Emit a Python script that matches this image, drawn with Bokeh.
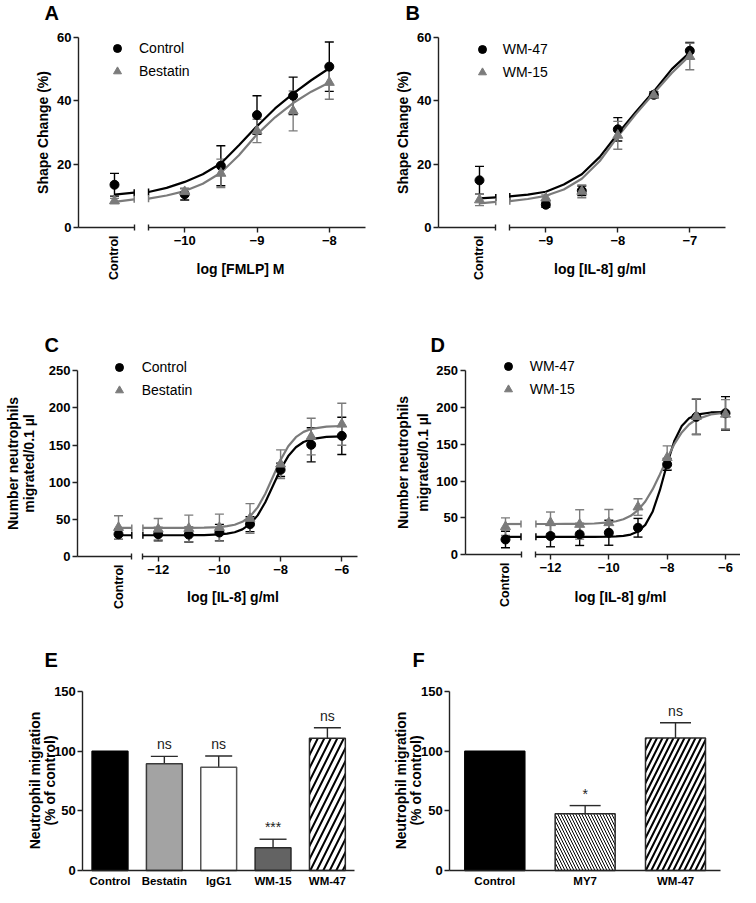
import math
from bokeh.plotting import figure
from bokeh.models import (LinearAxis, FixedTicker, Range1d, Label, Legend, LegendItem,
                          Whisker, TeeHead, ColumnDataSource)
from bokeh.layouts import column, row
from bokeh.embed import file_html
from bokeh.resources import INLINE
from bokeh.core.properties import value

FONT = "Liberation Sans"
INK = "#000000"
GREY = "#7b7b7b"
AXC = "#222222"

# ---------------- Panel A : shape change, FMLP ----------------
A_series = ["Control", "Bestatin"]
A_logx = [-10, -9.5, -9, -8.5, -8]
A_mean_1 = [10.5, 19.5, 35.5, 41.6, 50.8]
A_sem_1 = [1.8, 6.3, 6.1, 5.9, 7.8]
A_mean_2 = [11.3, 17.1, 30.5, 36.8, 45.8]
A_sem_2 = [1.0, 4.5, 3.7, 6.3, 5.3]
A_ctrl_mean = [13.5, 8.4]
A_ctrl_sem = [3.6, 0.8]
A_fit_x = [-10.5, -10.25, -10, -9.75, -9.5, -9.25, -9, -8.75, -8.5, -8.25, -8]
A_fit_1 = [11.2, 12.5, 14.4, 16.8, 20.2, 26.0, 32.0, 37.6, 42.3, 46.5, 50.3]
A_fit_2 = [9.1, 10.1, 11.5, 13.8, 17.3, 22.8, 29.4, 34.8, 39.3, 42.9, 45.8]
A_fit_ctrl_1 = [10.4, 11.0]
A_fit_ctrl_2 = [8.1, 8.9]
A_xticks = [-10, -9, -8]
A_yticks = [0, 20, 40, 60]

# ---------------- Panel B : shape change, IL-8 ----------------
B_series = ["WM-47", "WM-15"]
B_logx = [-9, -8.5, -8, -7.5, -7]
B_mean_1 = [7.2, 11.6, 31.0, 41.9, 55.8]
B_sem_1 = [0.8, 1.5, 3.7, 1.0, 2.6]
B_mean_2 = [9.3, 11.4, 29.1, 41.8, 54.0]
B_sem_2 = [1.0, 2.0, 4.4, 1.0, 4.2]
B_ctrl_mean = [14.9, 8.7]
B_ctrl_sem = [4.4, 1.8]
B_fit_x = [-9.5, -9.25, -9, -8.75, -8.5, -8.25, -8, -7.75, -7.5, -7.25, -7]
B_fit_1 = [9.8, 10.4, 11.3, 13.6, 16.8, 22.3, 29.6, 36.5, 43.0, 50.0, 55.3]
B_fit_2 = [8.3, 9.0, 10.0, 12.0, 15.4, 21.0, 28.7, 35.8, 42.4, 48.8, 54.3]
B_fit_ctrl_1 = [9.2, 9.5]
B_fit_ctrl_2 = [7.6, 8.1]
B_xticks = [-9, -8, -7]
B_yticks = [0, 20, 40, 60]

# ---------------- Panel C : migration, IL-8 ----------------
C_series = ["Control", "Bestatin"]
C_logx = [-12, -11, -10, -9, -8, -7, -6]
C_mean_1 = [30.0, 29.5, 32.3, 43.5, 116.7, 150.4, 162.4]
C_sem_1 = [9, 10, 11, 10, 9, 23, 25]
C_mean_2 = [36.8, 37.7, 39.0, 51.2, 124.3, 161.5, 178.1]
C_sem_2 = [14.4, 18, 18, 20, 19.3, 24.7, 28.3]
C_ctrl_mean = [30.0, 39.0]
C_ctrl_sem = [7, 15.8]
C_fit_x = [-12.5, -12, -11.5, -11, -10.5, -10, -9.75, -9.5, -9.25, -9, -8.75,
           -8.5, -8.25, -8, -7.75, -7.5, -7.25, -7, -6.5, -6]
C_fit_1 = [28.6, 28.6, 28.6, 28.7, 28.9, 29.7, 30.7, 32.7, 36.5, 43.5, 55.4,
           73.1, 95.3, 117.5, 135.2, 147.1, 154.1, 157.9, 161.0, 161.7]
C_fit_2 = [38.5, 38.5, 38.5, 38.6, 38.9, 39.6, 40.8, 42.7, 46.7, 53.9, 66.1,
           84.4, 107.3, 130.1, 148.4, 160.6, 167.8, 171.7, 174.9, 175.7]
C_fit_ctrl_1 = [28.6, 28.6]
C_fit_ctrl_2 = [38.5, 38.5]
C_xticks = [-12, -10, -8, -6]
C_yticks = [0, 50, 100, 150, 200, 250]

# ---------------- Panel D : migration, antibodies ----------------
D_series = ["WM-47", "WM-15"]
D_logx = [-12, -11, -10, -9, -8, -7, -6]
D_mean_1 = [25.1, 27.3, 29.6, 36.4, 122.7, 187.3, 192.2]
D_sem_1 = [14.6, 15, 17, 12.7, 8, 24, 22.7]
D_mean_2 = [43.2, 40.9, 43.2, 64.6, 131.8, 187.7, 190.8]
D_sem_2 = [14.6, 20, 18, 11.3, 16, 24, 20]
D_ctrl_mean = [20.4, 37.8]
D_ctrl_sem = [11.3, 12]
D_fit_x = [-12.5, -12, -11.5, -11, -10.5, -10, -9.75, -9.5, -9.25, -9, -8.75,
           -8.5, -8.25, -8, -7.75, -7.5, -7.25, -7, -6.5, -6]
D_fit_1 = [24.0, 24.0, 24.0, 24.0, 24.0, 24.2, 24.6, 25.3, 27.1, 31.3, 40.3,
           58.1, 87.5, 123.5, 154.9, 175.0, 185.4, 190.3, 193.3, 193.9]
D_fit_2 = [41.5, 41.5, 41.6, 41.7, 42.2, 43.6, 45.2, 48.0, 52.7, 60.4, 72.1,
           88.6, 109.0, 130.8, 150.6, 166.1, 176.9, 183.9, 190.6, 192.9]
D_fit_ctrl_1 = [24.0, 24.0]
D_fit_ctrl_2 = [41.5, 41.5]
D_xticks = [-12, -10, -8, -6]
D_yticks = [0, 50, 100, 150, 200, 250]

# ---------------- Panel E / F : bars ----------------
E_cats = ["Control", "Bestatin", "IgG1", "WM-15", "WM-47"]
E_vals = [100, 89.5, 86.5, 19.1, 110.8]
E_sem = [0, 6.1, 9.4, 7.1, 8.8]
E_marks = ["", "ns", "ns", "***", "ns"]
F_cats = ["Control", "MY7", "WM-47"]
F_vals = [100, 47.5, 111.0]
F_sem = [0, 6.9, 12.8]
F_marks = ["", "*", "ns"]
EF_yticks = [0, 50, 100, 150]

# styles (kept apart from data)
E_fill = ["#000000", "#a3a3a3", "#ffffff", "#636363", "#ffffff"]
E_line = ["#000000", "#3a3a3a", "#555555", "#2a2a2a", "#2a2a2a"]
E_hatch = [" ", " ", " ", " ", "/"]
E_hscale = [13, 13, 13, 13, 13]
E_hweight = [2.0, 2.0, 2.0, 2.0, 2.0]
F_fill = ["#000000", "#ffffff", "#ffffff"]
F_line = ["#000000", "#2a2a2a", "#2a2a2a"]
F_hatch = [" ", "\\", "/"]
F_hscale = [11, 6, 11]
F_hweight = [1.0, 1.0, 2.0]

# ---------------- layout constants (page pixels) ----------------
LA = dict(X0=8, Y0=8, W=370, H=282, xcal=(192.2, -10, 336.8, -8), ycal=(235, 0, 45, 60),
          lo=-10.5, hi=-7.5, yaxis_px=86, break_px=141.7, ctrl_px=122,
          xtitle=(248, 276), ytitle=[(50, 140)], letter=(52, 20),
          leg=(125, 55.5, 147.3, 23))
LB = dict(X0=378, Y0=8, W=370, H=282, xcal=(553.3, -9, 697.3, -7), ycal=(235, 0, 45, 60),
          lo=-9.5, hi=-6.5, yaxis_px=446, break_px=503.3, ctrl_px=487,
          xtitle=(607.5, 276), ytitle=[(410, 140)], letter=(413, 20),
          leg=(489.7, 57.3, 511, 23))
LC = dict(X0=8, Y0=290, W=370, H=329, xcal=(165.7, -12, 349.3, -6), ycal=(564, 0, 378.3, 250),
          lo=-12.5, hi=-5.5, yaxis_px=85, break_px=139.3, ctrl_px=126,
          xtitle=(240.5, 604), ytitle=[(20, 471), (36.5, 471)], letter=(52, 352),
          leg=(126.7, 375, 150, 23))
LD = dict(X0=378, Y0=290, W=370, H=329, xcal=(558, -12, 733, -6), ycal=(562, 0, 378.3, 250),
          lo=-12.5, hi=-5.5, yaxis_px=472.5, break_px=528.5, ctrl_px=513,
          xtitle=(628, 604), ytitle=[(410, 470), (430, 470)], letter=(438, 352),
          leg=(515.7, 374.3, 537.3, 23))
LE = dict(X0=8, Y0=619, W=370, H=276, c0=117.5, cN=334.9, ycal=(878, 0, 699, 150),
          bw=0.66, cap=27, ytitle=[(42, 788), (57, 788)], letter=(52, 667))
LF = dict(X0=378, Y0=619, W=370, H=276, c0=502.3, cN=683.0, ycal=(878, 0, 699, 150),
          bw=0.664, cap=31, ytitle=[(408, 788), (423, 788)], letter=(420, 667))

TICK_FS = "13px"
TITLE_FS = "14px"


def lin(p1, v1, p2, v2):
    k = (v2 - v1) / (p2 - p1)
    return lambda px: v1 + (px - p1) * k


def base_fig(L, fx, fy):
    X0, Y0, W, H = L["X0"], L["Y0"], L["W"], L["H"]
    p = figure(width=W, height=H,
               x_range=Range1d(fx(X0), fx(X0 + W)),
               y_range=Range1d(fy(Y0 + H), fy(Y0)),
               output_backend="svg", toolbar_location=None,
               x_axis_location=None, y_axis_location=None,
               min_border=0, outline_line_color=None,
               background_fill_color="white", border_fill_color="white")
    p.grid.visible = False
    return p


def style_axis(ax, size=TICK_FS):
    ax.axis_line_color = AXC
    ax.axis_line_width = 1.4
    ax.major_tick_line_color = AXC
    ax.major_tick_line_width = 1.4
    ax.minor_tick_line_color = AXC
    ax.minor_tick_line_width = 1.4
    ax.major_tick_in = 0
    ax.major_tick_out = 5
    ax.minor_tick_in = 0
    ax.minor_tick_out = 0
    ax.major_label_text_font = FONT
    ax.major_label_text_font_style = "bold"
    ax.major_label_text_font_size = size
    ax.major_label_text_color = "#000000"
    ax.major_label_standoff = 3


def add_label(p, x, y, text, size, bold=True, angle=0.0, align="center", baseline="middle"):
    p.add_layout(Label(x=x, y=y, text=text, angle=angle, text_align=align,
                       text_baseline=baseline, text_font=FONT, text_font_size=size,
                       text_font_style="bold" if bold else "normal", text_color="#000000"))


def whisker(p, xs, lo, hi, color, cap, lower=True):
    src = ColumnDataSource(dict(x=xs, lo=lo, hi=hi))
    w = Whisker(base="x", lower="lo", upper="hi", source=src, line_color=color, line_width=1.4,
                upper_head=TeeHead(size=cap, line_color=color, line_width=1.4),
                lower_head=TeeHead(size=cap, line_color=color, line_width=1.4) if lower else None)
    p.add_layout(w)


def dose_panel(L, series, logx, m1, s1, m2, s2, cm, cs, fit_x, f1, f2, fc1, fc2,
               xticks, yticks, xtitle, ytitle_lines, letter):
    fx = lin(*L["xcal"])
    fy = lin(*L["ycal"])
    p = base_fig(L, fx, fy)
    x_left = fx(L["yaxis_px"])
    x_break = fx(L["break_px"])
    x_ctrl = round(fx(L["ctrl_px"]), 3)
    lo, hi = L["lo"], L["hi"]

    yax = LinearAxis(fixed_location=x_left, bounds=(yticks[0], yticks[-1]),
                     ticker=FixedTicker(ticks=yticks))
    style_axis(yax)
    yax.major_label_standoff = 2
    p.add_layout(yax, "left")

    xlog = LinearAxis(fixed_location=0, bounds=(lo, hi),
                      ticker=FixedTicker(ticks=xticks, minor_ticks=[lo]))
    style_axis(xlog)
    xlog.minor_tick_in = 3
    xlog.minor_tick_out = 3
    p.add_layout(xlog, "below")

    xctl = LinearAxis(fixed_location=0, bounds=(x_left, x_break),
                      ticker=FixedTicker(ticks=[x_ctrl], minor_ticks=[x_break]),
                      major_label_overrides={x_ctrl: "Control"})
    style_axis(xctl, "12.5px")
    xctl.major_tick_out = 0
    xctl.minor_tick_in = 3
    xctl.minor_tick_out = 3
    xctl.major_label_orientation = math.pi / 2
    xctl.major_label_standoff = 5
    p.add_layout(xctl, "below")

    xs = [x_ctrl] + logx
    ys1 = [cm[0]] + m1
    es1 = [cs[0]] + s1
    ys2 = [cm[1]] + m2
    es2 = [cs[1]] + s2

    whisker(p, xs, [y - e for y, e in zip(ys1, es1)], [y + e for y, e in zip(ys1, es1)], INK, 9)
    whisker(p, xs, [y - e for y, e in zip(ys2, es2)], [y + e for y, e in zip(ys2, es2)], GREY, 9)

    p.line(fit_x, f1, line_color=INK, line_width=2.2)
    p.line([x_ctrl, x_break], fc1, line_color=INK, line_width=2.2)
    p.line(fit_x, f2, line_color=GREY, line_width=2.2)
    p.line([x_ctrl, x_break], fc2, line_color=GREY, line_width=2.2)
    p.scatter([x_break, fit_x[0]], [fc1[-1], f1[0]], marker="dash", angle=math.pi / 2,
              size=7, line_color=INK, line_width=1.5)
    p.scatter([x_break, fit_x[0]], [fc2[-1], f2[0]], marker="dash", angle=math.pi / 2,
              size=7, line_color=GREY, line_width=1.5)

    r1 = p.scatter(xs, ys1, marker="circle", size=9, fill_color=INK, line_color=INK)
    r2 = p.scatter(xs, ys2, marker="triangle", size=10, fill_color=GREY, line_color=GREY)

    gcx, gcy, tx, gap = L["leg"]
    left = gcx - 10
    top = gcy - 10
    bottom = top + 20 + gap
    legend = Legend(items=[LegendItem(label=series[0], renderers=[r1]),
                           LegendItem(label=series[1], renderers=[r2])],
                    location=(left - L["X0"], (L["Y0"] + L["H"]) - bottom),
                    orientation="vertical", glyph_width=20, glyph_height=20,
                    label_height=20, label_width=10, spacing=int(round(gap - 20)),
                    padding=0, margin=0,
                    label_standoff=int(round(tx - (gcx + 10))), border_line_color=None,
                    background_fill_alpha=0, label_text_font=FONT,
                    label_text_font_size="14px", label_text_color="#000000")
    p.add_layout(legend)

    add_label(p, fx(L["xtitle"][0]), fy(L["xtitle"][1]), xtitle, TITLE_FS)
    for (px, py), txt in zip(L["ytitle"], ytitle_lines):
        add_label(p, fx(px), fy(py), txt, TITLE_FS, angle=math.pi / 2)
    add_label(p, fx(L["letter"][0]), fy(L["letter"][1]), letter, "20px",
              align="left", baseline="alphabetic")
    return p


def bar_panel(L, cats, vals, sems, marks, fills, lines, hatches, hscales, hweights,
              yticks, ytitle_lines, letter):
    n = len(cats)
    fx = lin(L["c0"], 0, L["cN"], n - 1)
    fy = lin(*L["ycal"])
    p = base_fig(L, fx, fy)
    xs = list(range(n))

    yax = LinearAxis(fixed_location=-0.5, bounds=(yticks[0], yticks[-1]),
                     ticker=FixedTicker(ticks=yticks))
    style_axis(yax)
    yax.major_label_standoff = 2
    p.add_layout(yax, "left")

    xax = LinearAxis(fixed_location=0, bounds=(-0.5, n - 0.5),
                     ticker=FixedTicker(ticks=xs),
                     major_label_overrides={i: c for i, c in zip(xs, cats)})
    style_axis(xax, "11.5px")
    xax.major_tick_out = 0
    xax.major_label_standoff = 4
    p.add_layout(xax, "below")

    p.vbar(x=xs, top=vals, bottom=0, width=L["bw"], fill_color=fills, line_color=lines,
           line_width=1.5, hatch_pattern=hatches, hatch_scale=hscales,
           hatch_weight=hweights, hatch_color=INK)

    idx = [i for i in xs if sems[i] > 0]
    whisker(p, [xs[i] for i in idx], [vals[i] for i in idx],
            [vals[i] + sems[i] for i in idx], "#2a2a2a", L["cap"], lower=False)

    p.text(x=xs, y=[v + s for v, s in zip(vals, sems)], text=marks, text_align="center",
           text_baseline="bottom", y_offset=-4, text_font=value(FONT),
           text_font_size="14px", text_color="#222222")

    for (px, py), txt in zip(L["ytitle"], ytitle_lines):
        add_label(p, fx(px), fy(py), txt, TITLE_FS, angle=math.pi / 2)
    add_label(p, fx(L["letter"][0]), fy(L["letter"][1]), letter, "20px",
              align="left", baseline="alphabetic")
    return p


pA = dose_panel(LA, A_series, A_logx, A_mean_1, A_sem_1, A_mean_2, A_sem_2, A_ctrl_mean,
                A_ctrl_sem, A_fit_x, A_fit_1, A_fit_2, A_fit_ctrl_1, A_fit_ctrl_2,
                A_xticks, A_yticks, "log [FMLP] M", ["Shape Change (%)"], "A")
pB = dose_panel(LB, B_series, B_logx, B_mean_1, B_sem_1, B_mean_2, B_sem_2, B_ctrl_mean,
                B_ctrl_sem, B_fit_x, B_fit_1, B_fit_2, B_fit_ctrl_1, B_fit_ctrl_2,
                B_xticks, B_yticks, "log [IL-8] g/ml", ["Shape Change (%)"], "B")
pC = dose_panel(LC, C_series, C_logx, C_mean_1, C_sem_1, C_mean_2, C_sem_2, C_ctrl_mean,
                C_ctrl_sem, C_fit_x, C_fit_1, C_fit_2, C_fit_ctrl_1, C_fit_ctrl_2,
                C_xticks, C_yticks, "log [IL-8] g/ml",
                ["Number neutrophils", "migrated/0.1 \u00b5l"], "C")
pD = dose_panel(LD, D_series, D_logx, D_mean_1, D_sem_1, D_mean_2, D_sem_2, D_ctrl_mean,
                D_ctrl_sem, D_fit_x, D_fit_1, D_fit_2, D_fit_ctrl_1, D_fit_ctrl_2,
                D_xticks, D_yticks, "log [IL-8] g/ml",
                ["Number neutrophils", "migrated/0.1 \u00b5l"], "D")
pE = bar_panel(LE, E_cats, E_vals, E_sem, E_marks, E_fill, E_line, E_hatch, E_hscale,
               E_hweight, EF_yticks, ["Neutrophil migration", "(% of control)"], "E")
pF = bar_panel(LF, F_cats, F_vals, F_sem, F_marks, F_fill, F_line, F_hatch, F_hscale,
               F_hweight, EF_yticks, ["Neutrophil migration", "(% of control)"], "F")

layout = column(row(pA, pB), row(pC, pD), row(pE, pF))
open("out.html", "w").write(file_html(layout, INLINE, title="Neutrophil responses"))
